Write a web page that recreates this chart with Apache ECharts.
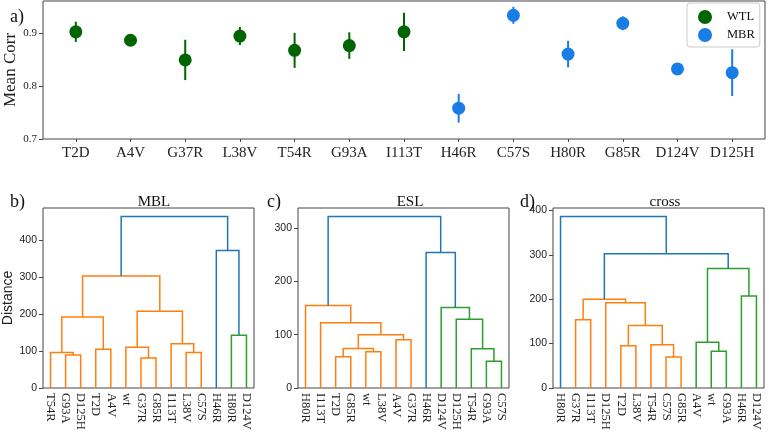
<!DOCTYPE html>
<html><head><meta charset="utf-8">
<script src="https://cdn.jsdelivr.net/npm/echarts@6/dist/echarts.min.js"></script>
<style>html,body{margin:0;padding:0;background:#fff}#c{width:769px;height:432px}</style>
</head><body><div id="c"></div>
<script>
// ---- panel a data ----
const wtlNames = ['T2D','A4V','G37R','L38V','T54R','G93A','I113T'];
const wtlMean  = [0.902,0.886,0.849,0.894,0.867,0.876,0.902];
const wtlErr   = [0.019,0.004,0.038,0.017,0.033,0.025,0.036];
const mbrNames = ['H46R','C57S','H80R','G85R','D124V','D125H'];
const mbrMean  = [0.758,0.933,0.860,0.918,0.832,0.825];
const mbrErr   = [0.027,0.016,0.025,0.013,0.008,0.044];

// ---- dendrograms: leaf order and merges [childA, childB, height, colour index] ----
const leavesMBL = ['T54R','G93A','D125H','T2D','A4V','wt','G37R','G85R','I113T','L38V','C57S','H46R','H80R','D124V'];
const mergesMBL = [[1,2,89,1],[0,14,96,1],[3,4,105,1],[15,16,192,1],[6,7,81,1],[5,18,110,1],[9,10,96,1],[8,20,120,1],[19,21,208,1],[17,22,303,1],[12,13,143,2],[11,24,372,0],[23,25,464,0]];

const leavesESL = ['H80R','I113T','T2D','G85R','wt','L38V','A4V','G37R','H46R','D124V','D125H','T54R','G93A','C57S'];
const mergesESL = [[2,3,58.5,1],[4,5,68,1],[14,15,74,1],[6,7,90.6,1],[16,17,100,1],[1,18,122.6,1],[0,19,154.7,1],[12,13,50.4,2],[11,21,73.6,2],[10,22,129,2],[9,23,151,2],[8,24,254,0],[20,25,321.5,0]];

const leavesCross = ['H80R','G37R','I113T','D125H','T2D','L38V','T54R','C57S','G85R','A4V','wt','G93A','H46R','D124V'];
const mergesCross = [[1,2,153.5,1],[4,5,95,1],[7,8,70,1],[6,16,97.5,1],[15,17,141,1],[3,18,192,1],[14,19,199.6,1],[10,11,82.5,2],[9,21,103,2],[12,13,207,2],[22,23,269,2],[20,24,302.5,0],[0,25,386,0]];

const SERIF = 'Liberation Serif';
const SANS = 'Liberation Sans';
const linkColors = ['#1f77b4','#ff7f0e','#2ca02c'];
const green = '#006400', blue = '#1a7de6';

const categories = wtlNames.concat(mbrNames);

function buildLinks(n, merges){
  const xs=[], hs=[], links=[];
  for(let i=0;i<n;i++){xs[i]=i;hs[i]=0;}
  merges.forEach((m,k)=>{
    const [a,b,h,c]=m; const id=n+k;
    xs[id]=(xs[a]+xs[b])/2; hs[id]=h;
    links.push([xs[a],hs[a],xs[b],hs[b],h,c]);
  });
  return links;
}
function maxH(merges){return Math.max(...merges.map(m=>m[2]))*1.05;}

const chart = echarts.init(document.getElementById('c'), null, {renderer:'canvas'});

const frame = {show:true, borderColor:'#444', borderWidth:1, backgroundColor:'transparent', containLabel:false, outerBoundsMode:'none'};
const grids = [
  Object.assign({left:43, top:1, width:722, height:138}, frame),
  Object.assign({left:43, top:208, width:211, height:180}, frame),
  Object.assign({left:298, top:208, width:211, height:180}, frame),
  Object.assign({left:553, top:208, width:211, height:180}, frame)
];

const idx = n => Array.from({length:n},(_, i)=>i);

function dendroX(gi, leaves){
  return {type:'value', gridIndex:gi, min:-0.5, max:leaves.length-0.5,
    axisLine:{show:false, onZero:false}, splitLine:{show:false},
    axisTick:{show:false},
    axisLabel:{customValues:idx(leaves.length), formatter:v=>leaves[Math.round(v)], rotate:-90, margin:5,
      fontFamily:SERIF, fontSize:12.5, color:'#222'}};
}
function dendroY(gi, merges, name){
  return {type:'value', gridIndex:gi, min:0, max:maxH(merges), interval:100,
    name:name||'', nameLocation:'middle', nameGap:28, nameMoveOverlap:false,
    nameTextStyle:{fontFamily:SANS, fontSize:14, color:'#222'},
    axisLine:{show:false, onZero:false}, splitLine:{show:false},
    axisTick:{show:true, length:4, lineStyle:{color:'#444'}},
    axisLabel:{showMaxLabel:false, margin:6, fontFamily:SANS, fontSize:10.5, color:'#222'}};
}
function dendroSeries(gi, n, merges){
  return {type:'custom', xAxisIndex:gi, yAxisIndex:gi, silent:true,
    encode:{x:[0,2], y:[1,3,4]},
    data:buildLinks(n, merges),
    renderItem:function(params, api){
      const p1=api.coord([api.value(0),api.value(1)]);
      const p2=api.coord([api.value(0),api.value(4)]);
      const p3=api.coord([api.value(2),api.value(4)]);
      const p4=api.coord([api.value(2),api.value(3)]);
      return {type:'polyline', shape:{points:[p1,p2,p3,p4]},
        style:{stroke:linkColors[api.value(5)], lineWidth:1.5, fill:null}};
    }};
}
function errSeries(xOffset, means, errs, color){
  return {type:'custom', xAxisIndex:0, yAxisIndex:0, silent:true,
    encode:{x:0, y:[1,2]},
    data:means.map((m,i)=>[xOffset+i, m-errs[i], m+errs[i]]),
    renderItem:function(params, api){
      const a=api.coord([api.value(0),api.value(1)]);
      const b=api.coord([api.value(0),api.value(2)]);
      return {type:'line', shape:{x1:a[0],y1:a[1],x2:b[0],y2:b[1]},
        style:{stroke:color, lineWidth:2}};
    }, z:2};
}

const tStyle = s => ({fontFamily:SERIF, fontSize:s, fontWeight:'normal', color:'#111'});
const option = {
  animation:false,
  backgroundColor:'#fff',
  grid:grids,
  title:[
    {text:'a)', left:5, top:3, textStyle:tStyle(18)},
    {text:'b)', left:5, top:188, textStyle:tStyle(18)},
    {text:'c)', left:262, top:188, textStyle:tStyle(18)},
    {text:'d)', left:515, top:188, textStyle:tStyle(18)},
    {text:'MBL', left:149, top:190, textAlign:'center', textStyle:tStyle(15)},
    {text:'ESL', left:405, top:190, textAlign:'center', textStyle:tStyle(15)},
    {text:'cross', left:660, top:190, textAlign:'center', textStyle:tStyle(15)}
  ],
  legend:{data:['WTL','MBR'], orient:'vertical', left:687, top:3,
    padding:[7,5,5,11], itemGap:4, itemWidth:14, itemHeight:14, icon:'circle',
    borderColor:'#ccc', borderWidth:1, borderRadius:3, backgroundColor:'#fff',
    textStyle:{fontFamily:SERIF, fontSize:12.5, color:'#111', padding:[0,0,0,10]}},
  xAxis:[
    {type:'value', gridIndex:0, min:-0.6, max:12.6,
      axisLine:{show:false, onZero:false}, splitLine:{show:false},
      axisTick:{show:true, length:3, customValues:idx(categories.length), lineStyle:{color:'#444'}},
      axisLabel:{customValues:idx(categories.length), formatter:v=>categories[Math.round(v)], margin:7,
        fontFamily:SERIF, fontSize:15, color:'#222'}},
    dendroX(1, leavesMBL), dendroX(2, leavesESL), dendroX(3, leavesCross)
  ],
  yAxis:[
    {type:'value', gridIndex:0, min:0.7, max:0.96, interval:0.1,
      name:'Mean Corr', nameLocation:'middle', nameGap:24, nameMoveOverlap:false,
      nameTextStyle:{fontFamily:SERIF, fontSize:17, color:'#222'},
      axisLine:{show:false, onZero:false}, splitLine:{show:false},
      axisTick:{show:true, length:4, lineStyle:{color:'#444'}},
      axisLabel:{showMaxLabel:false, formatter:v=>v.toFixed(1), margin:6, fontFamily:SERIF, fontSize:11, color:'#222'}},
    dendroY(1, mergesMBL, 'Distance'), dendroY(2, mergesESL), dendroY(3, mergesCross)
  ],
  series:[
    errSeries(0, wtlMean, wtlErr, green),
    errSeries(wtlNames.length, mbrMean, mbrErr, blue),
    {name:'WTL', type:'scatter', xAxisIndex:0, yAxisIndex:0, symbolSize:13, z:3,
      itemStyle:{color:green, opacity:1}, data:wtlMean.map((m,i)=>[i,m])},
    {name:'MBR', type:'scatter', xAxisIndex:0, yAxisIndex:0, symbolSize:13, z:3,
      itemStyle:{color:blue, opacity:1}, data:mbrMean.map((m,i)=>[wtlNames.length+i,m])},
    dendroSeries(1, leavesMBL.length, mergesMBL),
    dendroSeries(2, leavesESL.length, mergesESL),
    dendroSeries(3, leavesCross.length, mergesCross)
  ]
};
chart.setOption(option);
</script>
</body></html>
